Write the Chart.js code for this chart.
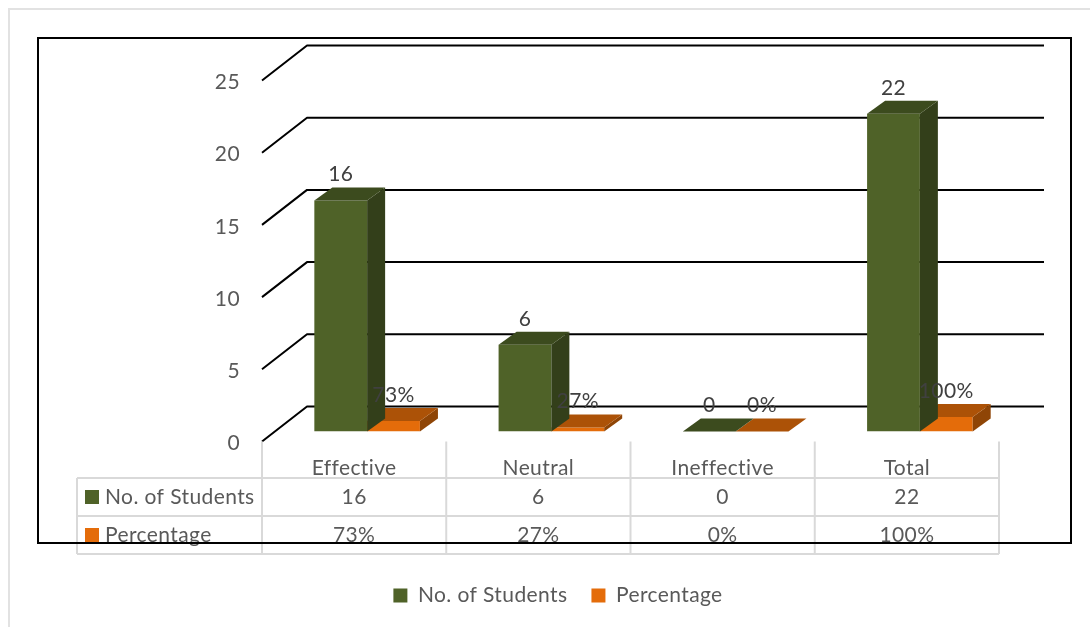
<!DOCTYPE html>
<html>
<head>
<meta charset="utf-8">
<title>Students chart</title>
<script src="https://cdn.jsdelivr.net/npm/chart.js@4"></script>
<style>
    html, body { margin: 0; padding: 0; background: #ffffff; }
    canvas { display: block; }
</style>
</head>
<body>
<canvas id="studentsChart" width="1090" height="627"></canvas>
<script>
var categories = ['Effective', 'Neutral', 'Ineffective', 'Total'];
var studentCounts = [16, 6, 0, 22];
var percentages = [0.73, 0.27, 0, 1];
var seriesNames = ['No. of Students', 'Percentage'];

var fontName = 'Lato';
var fontSize = 21;
var spacing = '0.4px';
var textGrey = '#595959';
var labelGrey = '#404040';
var tableGrey = '#d9d9d9';
var frontColors = ['#4f6228', '#e46c0a'];
var topColors = ['#3c4b1e', '#ac5207'];
var sideColors = ['#333f1a', '#8f4506'];

// fake 3d offsets
var wallX = 45, wallY = 35;
var barShiftX = 13, barShiftY = 10;
var depthX = 18, depthY = 13;

const percentText = (v) => Math.round(v * 100) + '%';

const fillPoly = (ctx, color, pts) => {
    ctx.fillStyle = color;
    ctx.beginPath();
    ctx.moveTo(pts[0][0], pts[0][1]);
    for (const p of pts.slice(1)) {
        ctx.lineTo(p[0], p[1]);
    }
    ctx.closePath();
    ctx.fill();
};

const line = (ctx, x1, y1, x2, y2) => {
    ctx.beginPath();
    ctx.moveTo(x1, y1);
    ctx.lineTo(x2, y2);
    ctx.stroke();
};

var wallPlugin = {
    id: 'wall',
    beforeUpdate(chart) {
        chart.ctx.letterSpacing = spacing;
    },
    beforeDraw(chart) {
        chart.ctx.letterSpacing = spacing;
    },
    beforeDatasetsDraw(chart) {
        const ctx = chart.ctx, area = chart.chartArea, y = chart.scales.y;
        ctx.save();
        //Outer picture edge
        ctx.strokeStyle = '#e2e2e2';
        ctx.lineWidth = 2;
        ctx.beginPath();
        ctx.moveTo(1090, 9);
        ctx.lineTo(9, 9);
        ctx.lineTo(9, 627);
        ctx.stroke();
        //Grid lines
        ctx.strokeStyle = '#000000';
        ctx.lineWidth = 2;
        ctx.lineJoin = 'round';
        for (const t of y.ticks) {
            const py = y.getPixelForValue(t.value);
            ctx.beginPath();
            ctx.moveTo(area.left, py);
            ctx.lineTo(area.left + wallX, py - wallY);
            ctx.lineTo(area.right + wallX, py - wallY);
            ctx.stroke();
        }
        ctx.restore();
    },
    beforeDatasetDraw(chart) {
        chart.ctx.save();
        chart.ctx.translate(barShiftX, -barShiftY);
    },
    afterDatasetDraw(chart, args) {
        const ctx = chart.ctx, i = args.index;
        for (const bar of chart.getDatasetMeta(i).data) {
            const half = bar.width / 2;
            const l = bar.x - half, r = bar.x + half;
            fillPoly(ctx, sideColors[i], [[r, bar.y], [r + depthX, bar.y - depthY], [r + depthX, bar.base - depthY], [r, bar.base]]);
            fillPoly(ctx, topColors[i], [[l, bar.y], [l + depthX, bar.y - depthY], [r + depthX, bar.y - depthY], [r, bar.y]]);
        }
        ctx.restore();
    },
    afterDatasetsDraw(chart) {
        const ctx = chart.ctx;
        ctx.save();
        ctx.font = fontSize + 'px ' + fontName;
        ctx.fillStyle = labelGrey;
        ctx.textAlign = 'center';
        ctx.textBaseline = 'middle';
        chart.data.datasets.forEach((ds, i) => {
            chart.getDatasetMeta(i).data.forEach((bar, j) => {
                const v = ds.data[j];
                const txt = i === 1 ? percentText(v) : String(v);
                ctx.fillText(txt, bar.x + barShiftX, bar.y - barShiftY - depthY - 13);
            });
        });
        ctx.restore();
    }
};

var tablePlugin = {
    id: 'dataTable',
    afterDraw(chart) {
        const ctx = chart.ctx, area = chart.chartArea, x = chart.scales.x;
        const rowLines = [478, 516, 554];
        const rowText = [497, 535];
        const tableLeft = 77;
        const step = (area.right - area.left) / categories.length;
        ctx.save();
        ctx.strokeStyle = tableGrey;
        ctx.lineWidth = 2;
        for (const ry of rowLines) {
            line(ctx, tableLeft, ry, area.right, ry);
        }
        line(ctx, tableLeft, rowLines[0], tableLeft, rowLines[2]);
        for (let c = 0; c <= categories.length; c++) {
            line(ctx, area.left + c * step, area.bottom, area.left + c * step, rowLines[2]);
        }
        ctx.font = fontSize + 'px ' + fontName;
        ctx.textBaseline = 'middle';
        ctx.fillStyle = textGrey;
        seriesNames.forEach((name, r) => {
            ctx.fillStyle = frontColors[r];
            ctx.fillRect(85, rowText[r] - 7, 14, 14);
            ctx.fillStyle = textGrey;
            ctx.textAlign = 'left';
            ctx.fillText(name, 105, rowText[r]);
            ctx.textAlign = 'center';
            categories.forEach((c, j) => {
                const txt = r === 0 ? String(studentCounts[j]) : percentText(percentages[j]);
                ctx.fillText(txt, x.getPixelForTick(j), rowText[r]);
            });
        });
        //Black frame sits on top of the table
        ctx.strokeStyle = '#000000';
        ctx.lineWidth = 2;
        ctx.strokeRect(38, 38, 1033, 505);
        ctx.restore();
    },
    afterLayout(chart) {
        // centre of the legend is not the centre of the page
        const shift = 558 - (chart.legend.left + chart.legend.right) / 2;
        chart.legend.left += shift;
        chart.legend.right += shift;
    }
};

var chartConfig = {
    type: 'bar',
    data: {
        labels: categories,
        datasets: [
            { label: seriesNames[0], data: studentCounts, backgroundColor: frontColors[0] },
            { label: seriesNames[1], data: percentages, backgroundColor: frontColors[1] },
        ],
    },
    options: {
        responsive: false,
        animation: false,
        devicePixelRatio: 1,
        layout: { padding: { left: 0, right: 91, top: 80.5, bottom: 11 } },
        datasets: { bar: { categoryPercentage: 0.573, barPercentage: 1 } },
        plugins: {
            tooltip: { enabled: false },
            legend: {
                position: 'bottom',
                labels: {
                    boxWidth: 14,
                    boxHeight: 14,
                    padding: 24,
                    color: textGrey,
                    font: { family: fontName, size: fontSize },
                },
            },
        },
        scales: {
            x: {
                grid: { display: false, drawTicks: false },
                border: { display: false },
                ticks: { color: textGrey, padding: 14, font: { family: fontName, size: fontSize } },
                afterFit(scale) { scale.height = 119.5; },
            },
            y: {
                min: 0,
                max: 25,
                grid: { display: false, drawTicks: false },
                border: { display: false },
                ticks: { stepSize: 5, color: textGrey, padding: 22, labelOffset: 2, font: { family: fontName, size: fontSize } },
                afterFit(scale) { scale.width = 262; },
            },
        },
    },
    plugins: [wallPlugin, tablePlugin],
};

window.studentsChart = new Chart(document.getElementById('studentsChart'), chartConfig);
</script>
</body>
</html>
